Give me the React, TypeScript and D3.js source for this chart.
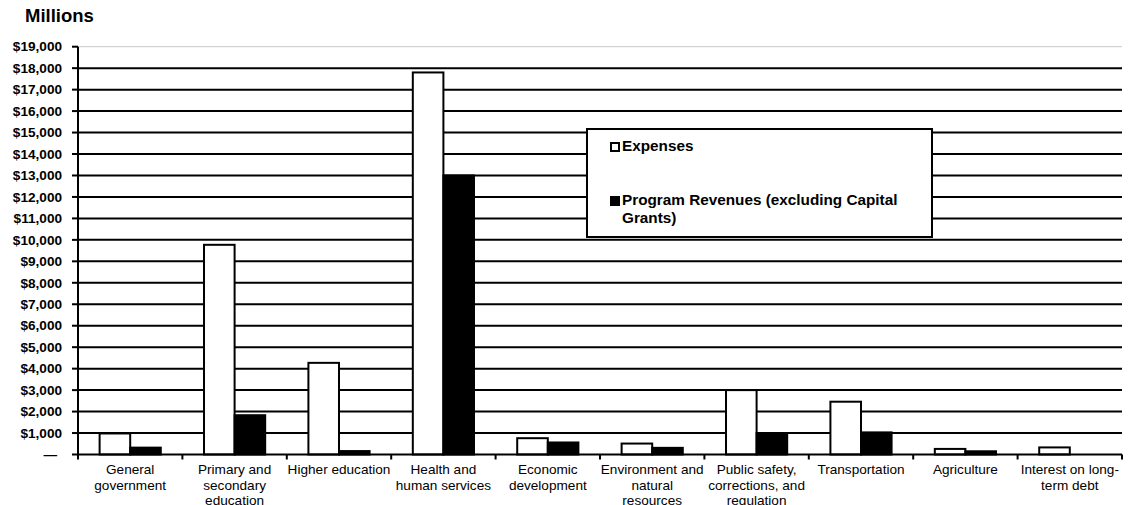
import React from "react";
import * as d3 from "d3";

const categories: string[][] = [
  ["General", "government"],
  ["Primary and", "secondary", "education"],
  ["Higher education"],
  ["Health and", "human services"],
  ["Economic", "development"],
  ["Environment and", "natural", "resources"],
  ["Public safety,", "corrections, and", "regulation"],
  ["Transportation"],
  ["Agriculture"],
  ["Interest on long-", "term debt"],
];

const expenses = [980, 9770, 4270, 17800, 760, 510, 3000, 2460, 260, 330];
const programRevenues = [320, 1830, 160, 13000, 560, 310, 1000, 1030, 150, 0];

const seriesNames = ["Expenses", "Program Revenues (excluding Capital Grants)"];
const legendLines = [["Expenses"], ["Program Revenues (excluding Capital", "Grants)"]];

const yTicks = d3.range(0, 19001, 1000);
const yTickLabels = yTicks.map((v) => (v === 0 ? "\u2014" : "$" + d3.format(",")(v)));

const FONT = "'Liberation Sans', Arial, Helvetica, sans-serif";

export default function App() {
  const W = 1131;
  const H = 505;
  const x0 = 78;
  const x1 = 1122;
  const yBottom = 454.5;
  const yTop = 46.7;

  const y = d3.scaleLinear().domain([0, 19000]).range([yBottom, yTop]);
  const keys = categories.map((_, i) => String(i));
  const xBand = d3.scaleBand<string>().domain(keys).range([x0, x1]).paddingInner(0).paddingOuter(0);
  const bw = xBand.bandwidth();
  const inner = d3
    .scaleBand<string>()
    .domain(seriesNames)
    .range([bw * 0.207, bw * 0.793])
    .padding(0);

  const series = [
    { name: seriesNames[0], values: expenses, fill: "#ffffff" },
    { name: seriesNames[1], values: programRevenues, fill: "#000000" },
  ];

  const boundaries = d3.range(0, categories.length + 1).map((i) => x0 + i * bw);

  const lg = { x: 587, y: 129, w: 345, h: 108 };

  return (
    <div style={{ position: "fixed", left: 0, top: 0, width: W, height: H, background: "#fff" }}>
      <svg width={W} height={H} style={{ display: "block", fontFamily: FONT }}>
        <rect x={0} y={0} width={W} height={H} fill="#fff" />
        <text x={25} y={22} fontSize={18.5} fontWeight="bold" fill="#000">
          Millions
        </text>

        {yTicks.map((t) =>
          t === 0 ? null : (
            <line
              key={"g" + t}
              x1={x0}
              x2={x1}
              y1={y(t)}
              y2={y(t)}
              stroke={t === 19000 ? "#c8c8c8" : "#000"}
              strokeWidth={t === 19000 ? 1 : 2}
            />
          )
        )}

        {yTicks.map((t, i) => (
          <g key={"yt" + t}>
            <line x1={72} x2={x0} y1={y(t)} y2={y(t)} stroke="#000" strokeWidth={2} />
            <text
              x={t === 0 ? 57 : 62}
              y={y(t)}
              dy="0.35em"
              textAnchor="end"
              fontSize={13.6}
              fontWeight="bold"
              fill="#000"
            >
              {yTickLabels[i]}
            </text>
          </g>
        ))}

        {series.map((s) =>
          s.values.map((v, i) =>
            v > 0 ? (
              <rect
                key={s.name + i}
                x={(xBand(keys[i]) as number) + (inner(s.name) as number)}
                y={y(v)}
                width={inner.bandwidth()}
                height={yBottom - y(v)}
                fill={s.fill}
                stroke="#000"
                strokeWidth={2}
              />
            ) : null
          )
        )}

        <line x1={x0} x2={x0} y1={yTop} y2={yBottom} stroke="#000" strokeWidth={2} />
        <line x1={x0} x2={x1} y1={yBottom} y2={yBottom} stroke="#000" strokeWidth={2} />
        {boundaries.map((bx, i) => (
          <line key={"xt" + i} x1={bx} x2={bx} y1={yBottom} y2={yBottom + 5} stroke="#000" strokeWidth={2} />
        ))}

        {categories.map((lines, i) => (
          <text
            key={"c" + i}
            x={(xBand(keys[i]) as number) + bw / 2}
            y={474}
            textAnchor="middle"
            fontSize={13.6}
            fill="#000"
          >
            {lines.map((ln, j) => (
              <tspan key={j} x={(xBand(keys[i]) as number) + bw / 2} dy={j === 0 ? 0 : 15.5}>
                {ln}
              </tspan>
            ))}
          </text>
        ))}

        <rect x={lg.x} y={lg.y} width={lg.w} height={lg.h} fill="#fff" stroke="#000" strokeWidth={2} />
        {series.map((s, i) => {
          const baseY = i === 0 ? 151 : 205;
          return (
            <g key={"lg" + i}>
              <rect x={611} y={baseY - 8} width={8} height={8} fill={s.fill} stroke="#000" strokeWidth={2} />
              <text x={622} y={baseY} fontSize={15.3} fontWeight="bold" fill="#000">
                {legendLines[i].map((ln, j) => (
                  <tspan key={j} x={622} dy={j === 0 ? 0 : 18}>
                    {ln}
                  </tspan>
                ))}
              </text>
            </g>
          );
        })}
      </svg>
    </div>
  );
}
